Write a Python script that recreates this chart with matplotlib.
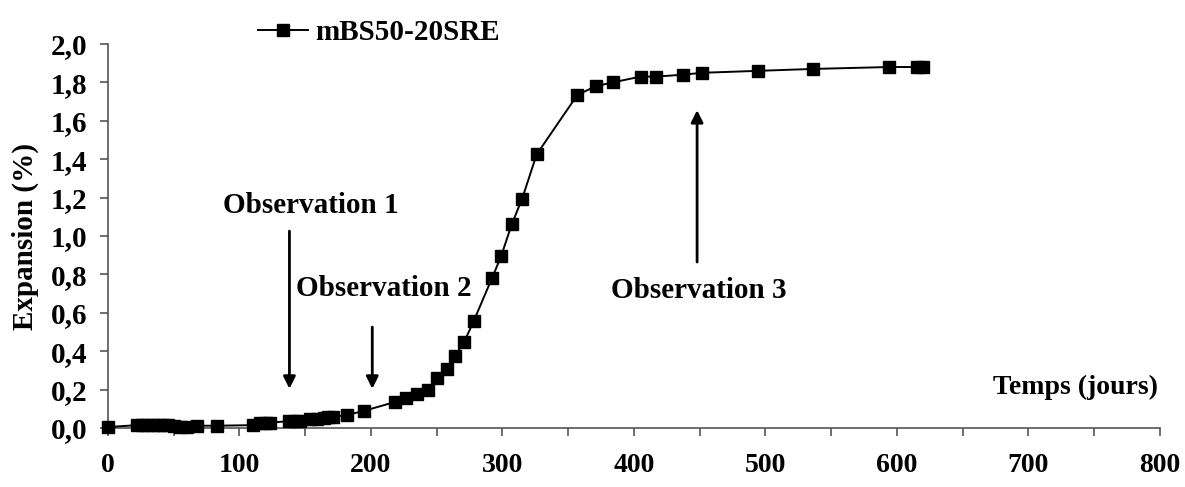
import matplotlib
matplotlib.use("Agg")
import matplotlib.pyplot as plt
from matplotlib.ticker import MultipleLocator, FuncFormatter

days = [0, 22, 26, 30, 34, 38, 42, 46, 50, 55, 60, 68, 83, 110, 116, 120, 123,
        138, 142, 146, 154, 159, 164, 167, 171, 182, 195, 218, 227, 235, 243,
        250, 258, 264, 271, 278, 292, 299, 307, 315, 326, 357, 371, 384, 405,
        417, 437, 452, 494, 536, 594, 615, 620]
expansion = [0.005, 0.015, 0.015, 0.015, 0.015, 0.015, 0.015, 0.015, 0.012, 0.005, 0.005, 0.012, 0.012, 0.015, 0.025, 0.028, 0.028,
             0.036, 0.036, 0.038, 0.045, 0.048, 0.053, 0.056, 0.058, 0.068, 0.09, 0.135, 0.155, 0.175, 0.20,
             0.26, 0.305, 0.375, 0.45, 0.555, 0.78, 0.895, 1.06, 1.195, 1.425, 1.735, 1.78, 1.80, 1.83,
             1.83, 1.84, 1.85, 1.86, 1.87, 1.88, 1.88, 1.88]
series_name = "mBS50-20SRE"

obs_labels = ["Observation 1", "Observation 2", "Observation 3"]
obs_x = [138, 201, 448]

plt.rcParams['font.family'] = ['Liberation Serif', 'DejaVu Serif']
plt.rcParams['font.weight'] = 'bold'

FS = 21

fig = plt.figure(figsize=(11.85, 4.87), dpi=100)
ax = fig.add_axes([0.0911, 0.1211, 0.9789 - 0.0911, 0.9097 - 0.1211])

ax.plot(days, expansion, color='black', lw=1.4, marker='s', markersize=8,
        label=series_name, clip_on=False, zorder=3)

ax.set_xlim(0, 800)
ax.set_ylim(0, 2.0)
ax.xaxis.set_major_locator(MultipleLocator(100))
ax.xaxis.set_minor_locator(MultipleLocator(50))
ax.yaxis.set_major_locator(MultipleLocator(0.2))
ax.yaxis.set_major_formatter(FuncFormatter(lambda v, p: f"{v:.1f}".replace('.', ',')))
for s in ['top', 'right']:
    ax.spines[s].set_visible(False)
for s in ['left', 'bottom']:
    ax.spines[s].set_color('#555555')
    ax.spines[s].set_linewidth(1.2)
ax.tick_params(axis='x', which='major', direction='out', length=6, width=1.2, color='#555555',
               labelsize=20, pad=12)
ax.tick_params(axis='x', which='minor', direction='out', length=6, width=1.2, color='#555555')
ax.tick_params(axis='y', which='major', direction='out', length=6, width=1.2, color='#555555',
               labelsize=21, pad=9)
for lab in ax.get_xticklabels() + ax.get_yticklabels():
    lab.set_fontweight('bold')

fig.text(25 / 1185, 1 - 237 / 487, "Expansion (%)", rotation=90, ha='center', va='center',
         fontsize=21, fontweight='bold')
ax.text(1.0 - 0.002, 0.105, "Temps (jours)", transform=ax.transAxes, ha='right', va='center',
        fontsize=20, fontweight='bold')

# annotations
ap = dict(arrowstyle='-|>', color='black', lw=2.0, mutation_scale=18)
ax.annotate("", xy=(obs_x[0], 0.19), xytext=(obs_x[0], 1.04), arrowprops=ap)
ax.text(154, 1.16, obs_labels[0], ha='center', va='center', fontsize=FS, fontweight='bold')
ax.annotate("", xy=(obs_x[1], 0.19), xytext=(obs_x[1], 0.54), arrowprops=ap)
ax.text(210, 0.725, obs_labels[1], ha='center', va='center', fontsize=FS, fontweight='bold')
ax.annotate("", xy=(obs_x[2], 1.67), xytext=(obs_x[2], 0.85), arrowprops=ap)
ax.text(449, 0.715, obs_labels[2], ha='center', va='center', fontsize=FS, fontweight='bold')

leg = ax.legend(loc='upper left', bbox_to_anchor=(0.118, 1.134), frameon=False,
                prop={'size': FS, 'weight': 'bold'}, handlelength=1.7, handletextpad=0.25)

fig.savefig("out.png", dpi=100)
